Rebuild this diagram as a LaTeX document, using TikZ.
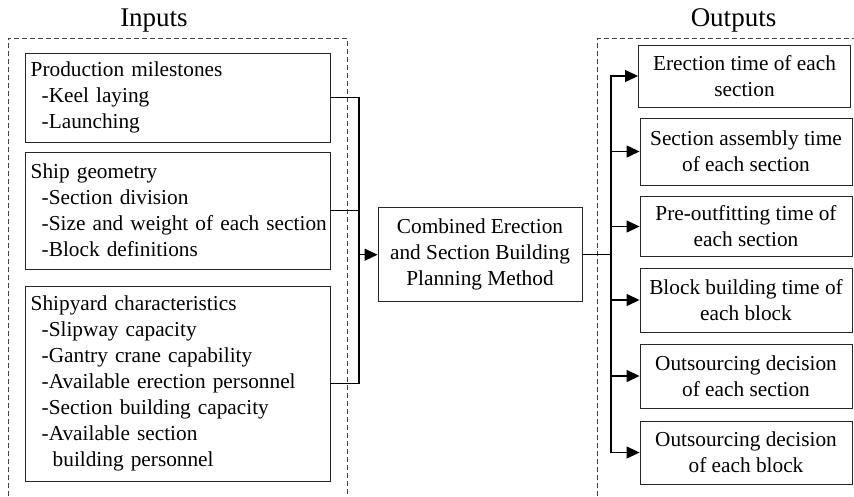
\documentclass[tikz,border=0pt]{standalone}
\usepackage{fontspec}
\setmainfont{Liberation Serif}
\usetikzlibrary{arrows.meta}
\begin{document}
\begin{tikzpicture}[x=1pt,y=-1pt,
  box/.style={draw=black!85, line width=0.9pt, inner ysep=0pt,
    font=\fontsize{21.3}{26}\selectfont},
  inbox/.style={box, align=left, inner xsep=5.7pt, text width=293.6pt},
  corebox/.style={box, align=center, inner xsep=0pt, minimum width=204pt, minimum height=94pt},
  outbox/.style={box, align=center, inner xsep=0pt, minimum width=212pt},
  title/.style={anchor=base, font=\fontsize{27}{30}\selectfont},
  group/.style={draw=black!75, line width=0.8pt, dash pattern=on 5pt off 3pt},
  link/.style={draw=black, line width=1.3pt},
  arrow/.style={link, -{Triangle[length=13pt,width=12pt]}}]
\useasboundingbox (0,0) rectangle (854,496);

% group frames and titles
\draw[group] (8,496) |- (347,38) -- (347,496);
\draw[group] (597.5,496) |- (854,38);
\node[title] (tin) at (154,26) {Inputs};
\node[title] (tout) at (733.5,26) {Outputs};

% inputs
\node[inbox, minimum height=89pt] (in1) at (177.5,97.5)
  {Production milestones\\
   \hspace*{11pt}-Keel laying\\
   \hspace*{11pt}-Launching};
\node[inbox, minimum height=117pt] (in2) at (177.5,210.5)
  {Ship geometry\\
   \hspace*{11pt}-Section division\\
   \hspace*{11pt}\mbox{-Size and weight of each section}\\
   \hspace*{11pt}-Block definitions};
\node[inbox, minimum height=195pt] (in3) at (177.5,383.5)
  {Shipyard characteristics\\
   \hspace*{11pt}-Slipway capacity\\
   \hspace*{11pt}-Gantry crane capability\\
   \hspace*{11pt}-Available erection personnel\\
   \hspace*{11pt}-Section building capacity\\
   \hspace*{11pt}-Available section\\
   \hspace*{22pt}building personnel};

% planning method
\node[corebox] (core) at (480,254.7)
  {Combined Erection\\and Section Building\\Planning Method};

% outputs
\node[outbox, minimum height=62pt] (out1) at (744.5,76)
  {Erection time of each\\section};
\node[outbox, minimum height=67pt] (out2) at (746,151.5)
  {Section assembly time\\of each section};
\node[outbox, minimum height=60pt] (out3) at (746,226.5)
  {Pre-outfitting time of\\each section};
\node[outbox, minimum height=64pt] (out4) at (746,300)
  {Block building time of\\each block};
\node[outbox, minimum height=64pt] (out5) at (746,376)
  {Outsourcing decision\\of each section};
\node[outbox, minimum height=63pt] (out6) at (746,452.5)
  {Outsourcing decision\\of each block};

% connectors
\coordinate (jin) at (359,254.7);
\coordinate (jout) at (611,254.7);
\draw[link] (in1.east) -| (jin);
\draw[link] (in2.east) -| (jin);
\draw[link] (in3.east) -| (jin);
\draw[arrow] (jin) -- (core.west);
\draw[link] (core.east) -- (jout);
\foreach \k in {1,...,6}
  \draw[arrow] (jout) |- (out\k.west);
\end{tikzpicture}
\end{document}
